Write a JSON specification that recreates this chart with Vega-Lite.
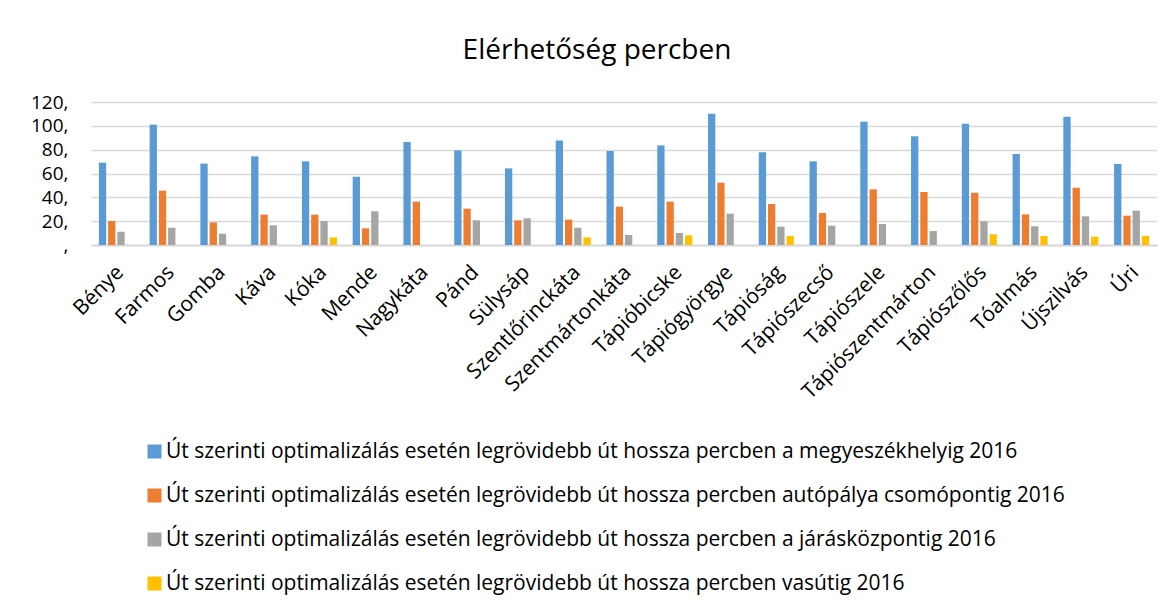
{
  "$schema": "https://vega.github.io/schema/vega-lite/v6.json",
  "width": 1066,
  "height": 143,
  "autosize": "none",
  "padding": {"left": 91, "top": 102, "right": 16, "bottom": 365},
  "background": "white",
  "title": {
    "text": "Elérhetőség percben",
    "fontSize": 28,
    "font": "Open Sans",
    "fontWeight": "normal",
    "color": "#000000",
    "anchor": "middle",
    "dx": -27,
    "offset": 28
  },
  "data": {
    "values": [
      {"t": "Bénye", "Út szerinti optimalizálás esetén legrövidebb út hossza percben a megyeszékhelyig 2016": 69.1, "Út szerinti optimalizálás esetén legrövidebb út hossza percben autópálya csomópontig 2016": 20.1, "Út szerinti optimalizálás esetén legrövidebb út hossza percben a járásközpontig 2016": 11.2},
      {"t": "Farmos", "Út szerinti optimalizálás esetén legrövidebb út hossza percben a megyeszékhelyig 2016": 101, "Út szerinti optimalizálás esetén legrövidebb út hossza percben autópálya csomópontig 2016": 45.6, "Út szerinti optimalizálás esetén legrövidebb út hossza percben a járásközpontig 2016": 14.5},
      {"t": "Gomba", "Út szerinti optimalizálás esetén legrövidebb út hossza percben a megyeszékhelyig 2016": 68.3, "Út szerinti optimalizálás esetén legrövidebb út hossza percben autópálya csomópontig 2016": 19, "Út szerinti optimalizálás esetén legrövidebb út hossza percben a járásközpontig 2016": 9.5},
      {"t": "Káva", "Út szerinti optimalizálás esetén legrövidebb út hossza percben a megyeszékhelyig 2016": 74.4, "Út szerinti optimalizálás esetén legrövidebb út hossza percben autópálya csomópontig 2016": 25.5, "Út szerinti optimalizálás esetén legrövidebb út hossza percben a járásközpontig 2016": 16.5},
      {"t": "Kóka", "Út szerinti optimalizálás esetén legrövidebb út hossza percben a megyeszékhelyig 2016": 70.2, "Út szerinti optimalizálás esetén legrövidebb út hossza percben autópálya csomópontig 2016": 25.5, "Út szerinti optimalizálás esetén legrövidebb út hossza percben a járásközpontig 2016": 20.1, "Út szerinti optimalizálás esetén legrövidebb út hossza percben vasútig 2016": 6.4},
      {"t": "Mende", "Út szerinti optimalizálás esetén legrövidebb út hossza percben a megyeszékhelyig 2016": 57.3, "Út szerinti optimalizálás esetén legrövidebb út hossza percben autópálya csomópontig 2016": 14, "Út szerinti optimalizálás esetén legrövidebb út hossza percben a járásközpontig 2016": 28.3},
      {"t": "Nagykáta", "Út szerinti optimalizálás esetén legrövidebb út hossza percben a megyeszékhelyig 2016": 86.4, "Út szerinti optimalizálás esetén legrövidebb út hossza percben autópálya csomópontig 2016": 36.4},
      {"t": "Pánd", "Út szerinti optimalizálás esetén legrövidebb út hossza percben a megyeszékhelyig 2016": 79.4, "Út szerinti optimalizálás esetén legrövidebb út hossza percben autópálya csomópontig 2016": 30.5, "Út szerinti optimalizálás esetén legrövidebb út hossza percben a járásközpontig 2016": 20.7},
      {"t": "Sülysáp", "Út szerinti optimalizálás esetén legrövidebb út hossza percben a megyeszékhelyig 2016": 64.3, "Út szerinti optimalizálás esetén legrövidebb út hossza percben autópálya csomópontig 2016": 20.7, "Út szerinti optimalizálás esetén legrövidebb út hossza percben a járásközpontig 2016": 22.4},
      {"t": "Szentlőrinckáta", "Út szerinti optimalizálás esetén legrövidebb út hossza percben a megyeszékhelyig 2016": 87.6, "Út szerinti optimalizálás esetén legrövidebb út hossza percben autópálya csomópontig 2016": 21.3, "Út szerinti optimalizálás esetén legrövidebb út hossza percben a járásközpontig 2016": 14.5, "Út szerinti optimalizálás esetén legrövidebb út hossza percben vasútig 2016": 6.4},
      {"t": "Szentmártonkáta", "Út szerinti optimalizálás esetén legrövidebb út hossza percben a megyeszékhelyig 2016": 78.9, "Út szerinti optimalizálás esetén legrövidebb út hossza percben autópálya csomópontig 2016": 32.2, "Út szerinti optimalizálás esetén legrövidebb út hossza percben a járásközpontig 2016": 8.4},
      {"t": "Tápióbicske", "Út szerinti optimalizálás esetén legrövidebb út hossza percben a megyeszékhelyig 2016": 83.6, "Út szerinti optimalizálás esetén legrövidebb út hossza percben autópálya csomópontig 2016": 36.4, "Út szerinti optimalizálás esetén legrövidebb út hossza percben a járásközpontig 2016": 10.1, "Út szerinti optimalizálás esetén legrövidebb út hossza percben vasútig 2016": 8.1},
      {"t": "Tápiógyörgye", "Út szerinti optimalizálás esetén legrövidebb út hossza percben a megyeszékhelyig 2016": 110.2, "Út szerinti optimalizálás esetén legrövidebb út hossza percben autópálya csomópontig 2016": 52.3, "Út szerinti optimalizálás esetén legrövidebb út hossza percben a járásközpontig 2016": 26.3},
      {"t": "Tápióság", "Út szerinti optimalizálás esetén legrövidebb út hossza percben a megyeszékhelyig 2016": 77.8, "Út szerinti optimalizálás esetén legrövidebb út hossza percben autópálya csomópontig 2016": 34.4, "Út szerinti optimalizálás esetén legrövidebb út hossza percben a járásközpontig 2016": 15.4, "Út szerinti optimalizálás esetén legrövidebb út hossza percben vasútig 2016": 7.6},
      {"t": "Tápiószecső", "Út szerinti optimalizálás esetén legrövidebb út hossza percben a megyeszékhelyig 2016": 70.2, "Út szerinti optimalizálás esetén legrövidebb út hossza percben autópálya csomópontig 2016": 26.9, "Út szerinti optimalizálás esetén legrövidebb út hossza percben a járásközpontig 2016": 16.2},
      {"t": "Tápiószele", "Út szerinti optimalizálás esetén legrövidebb út hossza percben a megyeszékhelyig 2016": 103.5, "Út szerinti optimalizálás esetén legrövidebb út hossza percben autópálya csomópontig 2016": 46.7, "Út szerinti optimalizálás esetén legrövidebb út hossza percben a járásközpontig 2016": 17.6},
      {"t": "Tápiószentmárton", "Út szerinti optimalizálás esetén legrövidebb út hossza percben a megyeszékhelyig 2016": 91.2, "Út szerinti optimalizálás esetén legrövidebb út hossza percben autópálya csomópontig 2016": 44.5, "Út szerinti optimalizálás esetén legrövidebb út hossza percben a járásközpontig 2016": 11.7},
      {"t": "Tápiószőlős", "Út szerinti optimalizálás esetén legrövidebb út hossza percben a megyeszékhelyig 2016": 101.8, "Út szerinti optimalizálás esetén legrövidebb út hossza percben autópálya csomópontig 2016": 43.9, "Út szerinti optimalizálás esetén legrövidebb út hossza percben a járásközpontig 2016": 19.9, "Út szerinti optimalizálás esetén legrövidebb út hossza percben vasútig 2016": 9},
      {"t": "Tóalmás", "Út szerinti optimalizálás esetén legrövidebb út hossza percben a megyeszékhelyig 2016": 76.4, "Út szerinti optimalizálás esetén legrövidebb út hossza percben autópálya csomópontig 2016": 25.7, "Út szerinti optimalizálás esetén legrövidebb út hossza percben a járásközpontig 2016": 15.7, "Út szerinti optimalizálás esetén legrövidebb út hossza percben vasútig 2016": 7.6},
      {"t": "Újszilvás", "Út szerinti optimalizálás esetén legrövidebb út hossza percben a megyeszékhelyig 2016": 107.7, "Út szerinti optimalizálás esetén legrövidebb út hossza percben autópálya csomópontig 2016": 48.1, "Út szerinti optimalizálás esetén legrövidebb út hossza percben a járásközpontig 2016": 24.1, "Út szerinti optimalizálás esetén legrövidebb út hossza percben vasútig 2016": 7},
      {"t": "Úri", "Út szerinti optimalizálás esetén legrövidebb út hossza percben a megyeszékhelyig 2016": 68, "Út szerinti optimalizálás esetén legrövidebb út hossza percben autópálya csomópontig 2016": 24.6, "Út szerinti optimalizálás esetén legrövidebb út hossza percben a járásközpontig 2016": 28.8, "Út szerinti optimalizálás esetén legrövidebb út hossza percben vasútig 2016": 7.6}
    ]
  },
  "transform": [
    {"fold": [
      "Út szerinti optimalizálás esetén legrövidebb út hossza percben a megyeszékhelyig 2016",
      "Út szerinti optimalizálás esetén legrövidebb út hossza percben autópálya csomópontig 2016",
      "Út szerinti optimalizálás esetén legrövidebb út hossza percben a járásközpontig 2016",
      "Út szerinti optimalizálás esetén legrövidebb út hossza percben vasútig 2016"
    ], "as": ["series", "value"]},
    {"filter": "isValid(datum.value)"}
  ],
  "mark": {"type": "bar"},
  "encoding": {
    "x": {
      "field": "t", "type": "nominal", "sort": null, "title": null,
      "scale": {"paddingInner": 0.31, "paddingOuter": 0.155},
      "axis": {
        "labelAngle": -45, "labelAlign": "right", "labelBaseline": "middle",
        "labelFontSize": 21, "labelFont": "Open Sans", "labelColor": "#000000",
        "labelPadding": 24, "labelOffset": 4, "ticks": false,
        "domainColor": "#d9d9d9", "domainWidth": 2, "labelOverlap": false, "labelLimit": 0
      }
    },
    "xOffset": {
      "field": "series", "type": "nominal",
      "sort": [
        "Út szerinti optimalizálás esetén legrövidebb út hossza percben a megyeszékhelyig 2016",
        "Út szerinti optimalizálás esetén legrövidebb út hossza percben autópálya csomópontig 2016",
        "Út szerinti optimalizálás esetén legrövidebb út hossza percben a járásközpontig 2016",
        "Út szerinti optimalizálás esetén legrövidebb út hossza percben vasútig 2016"
      ],
      "scale": {"paddingInner": 0.21, "paddingOuter": 0}
    },
    "y": {
      "field": "value", "type": "quantitative", "title": null,
      "scale": {"domain": [0, 120], "nice": false},
      "axis": {
        "values": [0, 20, 40, 60, 80, 100, 120],
        "labelExpr": "datum.value === 0 ? ',' : datum.value + ','",
        "labelFontSize": 19, "labelFont": "Open Sans", "labelColor": "#000000",
        "labelPadding": 23, "ticks": false, "domain": false,
        "gridColor": "#d9d9d9", "gridWidth": 1.7
      }
    },
    "color": {
      "field": "series", "type": "nominal", "title": null,
      "sort": [
        "Út szerinti optimalizálás esetén legrövidebb út hossza percben a megyeszékhelyig 2016",
        "Út szerinti optimalizálás esetén legrövidebb út hossza percben autópálya csomópontig 2016",
        "Út szerinti optimalizálás esetén legrövidebb út hossza percben a járásközpontig 2016",
        "Út szerinti optimalizálás esetén legrövidebb út hossza percben vasútig 2016"
      ],
      "scale": {"range": ["#5b9bd5", "#ed7d31", "#a5a5a5", "#ffc000"]},
      "legend": {
        "orient": "none", "legendX": 53, "legendY": 339, "direction": "vertical",
        "symbolType": "square", "symbolSize": 196, "symbolStrokeWidth": 0,
        "labelFontSize": 21, "labelFont": "Open Sans", "labelColor": "#000000",
        "labelOffset": 1, "labelLimit": 0, "rowPadding": 22
      }
    }
  },
  "config": {"view": {"stroke": null}}
}
